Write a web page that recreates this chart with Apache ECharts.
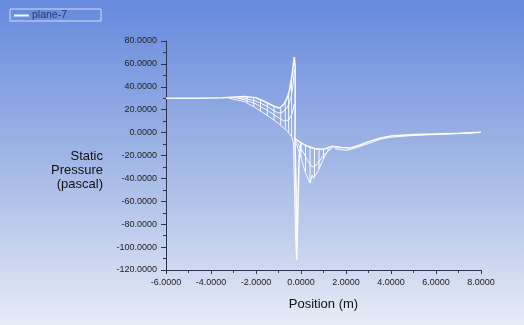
<!DOCTYPE html>
<html>
<head>
<meta charset="utf-8">
<script src="https://cdn.jsdelivr.net/npm/echarts@6/dist/echarts.min.js"></script>
<style>
  html, body { margin: 0; padding: 0; }
  #chart { width: 524px; height: 325px; }
</style>
</head>
<body>
<div id="chart"></div>
<script>
// values: [position (m), static pressure (Pa)]
const xTicks = [-6, -4, -2, 0, 2, 4, 6, 8]
const yTicks = [-120, -100, -80, -60, -40, -20, 0, 20, 40, 60, 80]

// upper edge of the left band, peak and spike
const upperLeft = [[-6, 30], [-4.5, 30], [-3.5, 30.5], [-2.5, 31.5], [-2, 30.5], [-1.6, 27], [-1.2, 23],
  [-0.95, 21.5], [-0.75, 25], [-0.6, 31], [-0.5, 38], [-0.4, 50], [-0.33, 61], [-0.3, 66],
  [-0.26, 58], [-0.26, 20], [-0.27, -5], [-0.22, -50], [-0.19, -111], [-0.13, -60], [-0.08, -20], [0, -9]]
const midLeft1 = [[-3, 30.5], [-2.5, 30], [-2, 27.5], [-1.5, 23], [-1.2, 19], [-1, 17], [-0.8, 18],
  [-0.6, 22], [-0.45, 30], [-0.35, 42], [-0.3, 55]]
const midLeft2 = [[-2.8, 30], [-2.5, 28.5], [-2, 25], [-1.5, 19.5], [-1, 13], [-0.75, 10], [-0.55, 11],
  [-0.4, 16], [-0.3, 25]]
const lowerLeft = [[-3.2, 30], [-2.5, 27], [-2, 21.5], [-1.5, 15], [-1, 8], [-0.6, 1], [-0.4, -4],
  [-0.33, -10], [-0.3, -40], [-0.24, -90], [-0.2, -108]]
// vertical mesh links in the left band
const hatchLeft = [[-2.4, 31.3, 26], [-2.1, 30.7, 22.5], [-1.8, 29, 19], [-1.5, 26, 15], [-1.2, 23, 11],
  [-0.9, 22, 6.5], [-0.7, 26, 3.5], [-0.55, 34, 0.5], [-0.42, 47, -3]]

// right part after the spike
const upperRight = [[-0.3, -5], [0, -9], [0.3, -12], [0.6, -14], [1, -14.5], [1.4, -12], [1.8, -13],
  [2.2, -13.5], [2.6, -11], [3, -8], [3.5, -5], [4, -3], [5, -1.8], [6, -1.2], [7, -0.6], [8, 0.3]]
const upperRight2 = [[1.5, -14], [2, -15.5], [2.5, -13], [3, -9.5], [3.5, -6], [4, -4], [5, -2.5],
  [6, -1.6], [7, -0.9], [7.7, -0.2]]
const midRight = [[-0.25, -7], [0.1, -17], [0.3, -25], [0.5, -30], [0.7, -28], [1, -20], [1.3, -14]]
const lowerRight = [[-0.2, -10], [0, -22], [0.15, -32], [0.3, -40], [0.4, -44], [0.5, -37],
  [0.55, -40], [0.75, -34], [0.95, -25], [1.15, -17], [1.4, -13]]
const hatchRight = [[0, -9, -22], [0.2, -11, -35], [0.4, -13, -44], [0.6, -14, -39], [0.8, -14.5, -32],
  [1, -14.5, -23], [1.2, -13, -16]]

function hatchData(rows) {
  const out = []
  rows.forEach(r => {
    out.push([r[0], r[1]], [r[0], r[2]], [r[0], '-'])
  })
  return out
}

const chart = echarts.init(document.getElementById('chart'))
const font = "'Liberation Sans', Arial, sans-serif"

function line(data, width) {
  return {
    name: 'plane-7',
    type: 'line',
    data: data,
    symbol: 'none',
    silent: true,
    lineStyle: { color: '#ffffff', width: width || 1, opacity: 0.95 },
    itemStyle: { color: '#ffffff' },
    animation: false
  }
}

chart.setOption({
  animation: false,
  backgroundColor: {
    type: 'linear', x: 0, y: 0, x2: 0, y2: 1,
    colorStops: [
      { offset: 0, color: '#6589dc' },
      { offset: 0.5, color: '#a2b7e6' },
      { offset: 1, color: '#e6ebf6' }
    ]
  },
  legend: {
    left: 10,
    top: 9,
    padding: [1, 34, 0, 3],
    borderColor: '#d2ddf6',
    borderWidth: 1,
    itemWidth: 15,
    itemHeight: 1,
    itemGap: 4,
    data: ['plane-7'],
    textStyle: { color: '#28376e', fontSize: 10.5, fontFamily: font, padding: [0, 0, 0, -2] }
  },
  graphic: [{
    type: 'text',
    x: 103,
    y: 149,
    silent: true,
    style: {
      text: 'Static\nPressure\n(pascal)',
      fill: '#111',
      font: "13px 'Liberation Sans', Arial, sans-serif",
      align: 'right',
      verticalAlign: 'top',
      lineHeight: 14
    }
  }],
  grid: { left: 166, right: 43, top: 41, bottom: 55, containLabel: false },
  xAxis: {
    type: 'value',
    min: xTicks[0],
    max: xTicks[xTicks.length - 1],
    interval: 2,
    name: 'Position (m)',
    nameLocation: 'middle',
    nameGap: 28,
    nameTextStyle: { color: '#111', fontSize: 13, fontFamily: font },
    axisLine: { show: true, onZero: false, lineStyle: { color: '#2b3550', width: 1 } },
    axisTick: { show: true, length: 4, lineStyle: { color: '#2b3550' } },
    minorTick: { show: true, splitNumber: 2, length: 3, lineStyle: { color: '#2b3550' } },
    splitLine: { show: false },
    axisLabel: { color: '#222', fontSize: 9, fontFamily: font, margin: 8, formatter: v => v.toFixed(4) }
  },
  yAxis: {
    type: 'value',
    min: yTicks[0],
    max: yTicks[yTicks.length - 1],
    interval: 20,
    axisLine: { show: true, onZero: false, lineStyle: { color: '#2b3550', width: 1 } },
    axisTick: { show: true, length: 5, lineStyle: { color: '#2b3550' } },
    minorTick: { show: true, splitNumber: 2, length: 3, lineStyle: { color: '#2b3550' } },
    splitLine: { show: false },
    axisLabel: { color: '#222', fontSize: 9, fontFamily: font, margin: 9, formatter: v => v.toFixed(4) }
  },
  series: [
    line(upperLeft, 1.6),
    line(midLeft1),
    line(midLeft2),
    line(lowerLeft),
    line(hatchData(hatchLeft)),
    line(upperRight, 1.6),
    line(upperRight2),
    line(midRight),
    line(lowerRight),
    line(hatchData(hatchRight))
  ]
})
</script>
</body>
</html>
